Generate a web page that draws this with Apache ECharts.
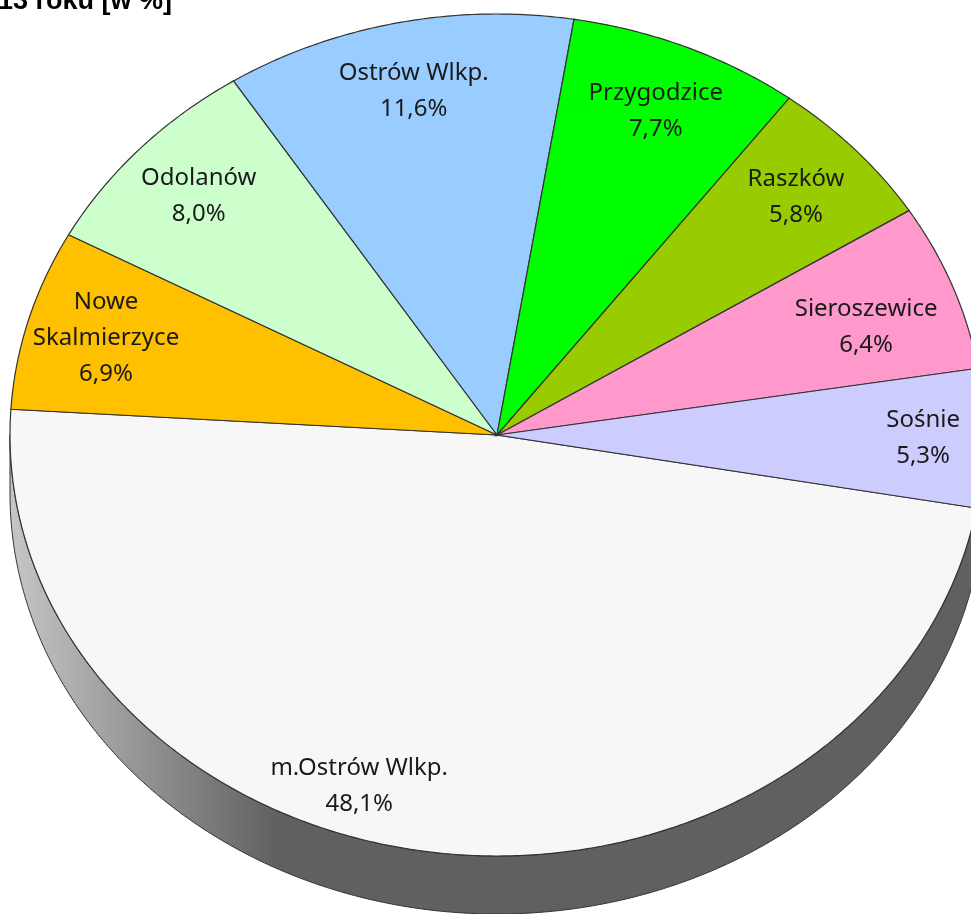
<!DOCTYPE html>
<html>
<head>
<meta charset="utf-8">
<script src="https://cdn.jsdelivr.net/npm/echarts@6/dist/echarts.min.js"></script>
<style>
  body { margin: 0; background: #fff; }
  #chart { width: 971px; height: 914px; }
</style>
</head>
<body>
<div id="chart"></div>
<script>
// gminy i ich udział [w %]
const gminy = ['m.Ostrów Wlkp.', 'Nowe Skalmierzyce', 'Odolanów', 'Ostrów Wlkp.', 'Przygodzice', 'Raszków', 'Sieroszewice', 'Sośnie'];
const udzial = [48.1, 6.9, 8.0, 11.6, 7.7, 5.8, 6.4, 5.3];
const kolory = ['#f7f7f7', '#ffc000', '#ccffcc', '#99ccff', '#00ff00', '#99cc00', '#ff99cc', '#ccccff'];

// geometria pochylonego tortu
const cx = 497, cy = 435, rx = 487, ry = 421, glebokosc = 58;
const katStart = 10;       // stopnie, liczone zgodnie z ruchem wskazówek od godz. 3
const etykietaR = 0.835;   // położenie etykiety na promieniu
// drobne przesunięcia etykiet [kąt, promień] tam gdzie Excel je przesunął
const etykietaKorekta = { 'm.Ostrów Wlkp.': [12, 0.88], 'Sośnie': [0, 0.875], 'Sieroszewice': [2, 0.8] };

const suma = udzial.reduce((a, b) => a + b, 0);
let kat = katStart;
const dane = udzial.map(function (v) {
  const s = kat;
  kat += v / suma * 360;
  return [v, s, kat];
});

function punkt(t, dy) {
  const r = t * Math.PI / 180;
  return [cx + rx * Math.cos(r), cy + ry * Math.sin(r) + (dy || 0)];
}

function luk(s, e, dy) {
  const pts = [];
  const n = Math.max(2, Math.ceil((e - s) / 0.5));
  for (let i = 0; i <= n; i++) pts.push(punkt(s + (e - s) * i / n, dy));
  return pts;
}

function przyciemnij(hex, f) {
  const c = echarts.color.parse(hex);
  return 'rgb(' + Math.round(c[0] * f) + ',' + Math.round(c[1] * f) + ',' + Math.round(c[2] * f) + ')';
}

function renderItem(params, api) {
  const i = params.dataIndex;
  const v = api.value(0), s = api.value(1), e = api.value(2);
  const kolor = kolory[i];
  const children = [];

  // boczna ściana - widoczna tylko z przodu (0..180 st.)
  [[0, 180], [360, 540]].forEach(function (zakres) {
    const a0 = Math.max(s, zakres[0]), a1 = Math.min(e, zakres[1]);
    if (a1 <= a0) return;
    const gora = luk(a0, a1, 0);
    const dol = luk(a0, a1, glebokosc).reverse();
    children.push({
      type: 'polygon',
      shape: { points: gora.concat(dol) },
      style: {
        fill: new echarts.graphic.LinearGradient(cx - rx, 0, cx - rx * 0.45, 0, [
          { offset: 0, color: przyciemnij(kolor, 0.8) },
          { offset: 1, color: przyciemnij(kolor, 0.39) }
        ], true),
        stroke: '#333',
        lineWidth: 1
      }
    });
  });

  // wierzch wycinka
  children.push({
    type: 'polygon',
    shape: { points: [[cx, cy]].concat(luk(s, e, 0)) },
    style: { fill: kolor, stroke: '#333', lineWidth: 1.2 }
  });

  // etykieta
  const nazwa = gminy[i];
  const kor = etykietaKorekta[nazwa] || [0, etykietaR];
  const pe = (function () {
    const t = ((s + e) / 2 + kor[0]) * Math.PI / 180;
    return [cx + rx * kor[1] * Math.cos(t), cy + ry * kor[1] * Math.sin(t)];
  })();
  const tekstNazwy = nazwa.length > 15 ? nazwa.replace(' ', '\n') : nazwa;
  children.push({
    type: 'text',
    z2: 10,
    style: {
      x: pe[0], y: pe[1],
      text: tekstNazwy + '\n' + v.toFixed(1).replace('.', ',') + '%',
      align: 'center',
      verticalAlign: 'middle',
      font: '24px "Noto Sans"',
      lineHeight: 36,
      fill: '#1a1a1a'
    }
  });

  return { type: 'group', children: children };
}

const chart = echarts.init(document.getElementById('chart'));
chart.setOption({
  animation: false,
  backgroundColor: '#ffffff',
  graphic: [{
    type: 'text',
    left: -2,
    top: -12,
    style: { text: '13 roku [w %]', font: 'bold 27px "Liberation Sans"', fill: '#000' }
  }],
  series: [{
    type: 'custom',
    coordinateSystem: 'none',
    silent: true,
    renderItem: renderItem,
    data: dane
  }]
});
</script>
</body>
</html>
